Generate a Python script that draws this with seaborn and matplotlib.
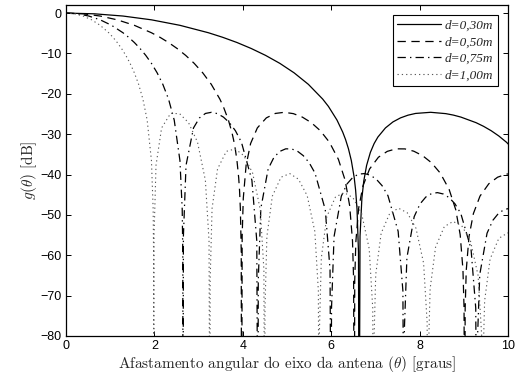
import matplotlib
matplotlib.use("Agg")
import matplotlib.pyplot as plt
import seaborn as sns

# Antenna gain pattern g(theta) in dB for four reflector diameters.
# Each list holds the off-axis angle (degrees) and the gain (dB); nulls are
# stored as -120 dB so that the curve drops through the bottom of the axes.

labels = ["d=0,30m", "d=0,50m", "d=0,75m", "d=1,00m"]

theta_030 = [0, 0.644, 1.288, 1.933, 2.577, 3.222, 3.545, 3.868, 4.190, 4.513,
             4.837, 5.160, 5.483, 5.807, 5.937, 6.131, 6.260, 6.325, 6.390,
             6.455, 6.520, 6.552, 6.584, 6.617, 6.631,
             6.652, 6.694, 6.737, 6.801, 6.886, 6.971, 7.056, 7.227, 7.397,
             7.568, 7.738, 7.909, 8.250, 8.592, 8.763, 8.935, 9.277, 9.448,
             9.620, 9.791, 9.963, 10.134]
g_030 = [0.00, -0.18, -0.73, -1.67, -3.03, -4.87, -6.00, -7.29, -8.77, -10.47,
         -12.45, -14.80, -17.65, -21.30, -23.12, -26.51, -29.48, -31.34, -33.61,
         -36.53, -40.74, -43.84, -48.56, -59.20, -120,
         -55.27, -45.88, -41.58, -37.73, -34.51, -32.32, -30.71, -28.45, -26.96,
         -25.96, -25.29, -24.86, -24.58, -24.91, -25.27, -25.77, -27.15, -28.06,
         -29.15, -30.44, -31.98, -33.86]

theta_050 = [0, 0.3865, 0.7729, 1.1595, 1.5460, 1.9327, 2.1260, 2.3194, 2.5128,
             2.7062, 2.8997, 3.0932, 3.2867, 3.4802, 3.5578, 3.6739, 3.7514,
             3.7901, 3.8288, 3.8675, 3.9062, 3.9257, 3.9450, 3.9644, 3.9726,
             3.9853, 4.0107, 4.0743, 4.1760, 4.3286, 4.5322, 4.7358, 4.9394,
             5.1431, 5.3469, 5.5506, 5.7545, 5.9585, 6.1626, 6.3157, 6.4177,
             6.4816, 6.5071, 6.5199,
             6.5323, 6.5572, 6.6195, 6.7192, 6.8687, 7.0683, 7.2678, 7.4675,
             7.6672, 7.8670, 8.0670, 8.2670, 8.4671, 8.6673, 8.8176, 8.9178,
             8.9804, 9.0055, 9.0180,
             9.0304, 9.0552, 9.1174, 9.2168, 9.3660, 9.5651, 9.7643, 9.9635,
             10.163]
g_050 = [0.00, -0.18, -0.73, -1.67, -3.03, -4.87, -6.00, -7.29, -8.77,
         -10.47, -12.45, -14.80, -17.65, -21.30, -23.12, -26.51, -29.48,
         -31.34, -33.61, -36.53, -40.74, -43.84, -48.56, -59.20, -120,
         -55.27, -45.88, -37.73, -32.32, -28.45, -25.96, -24.86, -24.58,
         -24.91, -25.77, -27.15, -29.15, -31.98, -36.23, -41.44, -47.74,
         -56.45, -66.08, -120,
         -66.16, -56.70, -48.42, -42.79, -38.61, -35.71, -34.26, -33.63,
         -33.65, -34.21, -35.32, -37.06, -39.64, -43.67, -48.71, -54.90,
         -63.55, -73.15, -120,
         -73.21, -63.73, -55.38, -49.67, -45.35, -42.29, -40.66, -39.89,
         -39.76]

theta_075 = [0, 0.2576, 0.5153, 0.7729, 1.0306, 1.2883, 1.4172, 1.5461, 1.6749,
             1.8038, 1.9327, 2.0616, 2.1905, 2.3194, 2.4483, 2.5774, 2.6289,
             2.6418, 2.6472,
             2.6558, 2.7150, 2.8843, 3.0198, 3.1553, 3.2907, 3.4262, 3.5618,
             3.6974, 3.8329, 3.9685, 4.2059, 4.3161, 4.3414,
             4.3497, 4.4076, 4.5731, 4.7056, 4.8381, 4.9706, 5.1031, 5.2357,
             5.3682, 5.5009, 5.6335, 5.8657, 5.9736, 5.9985,
             6.0066, 6.0643, 6.2289, 6.3606, 6.4923, 6.6242, 6.7560, 6.8878,
             7.0196, 7.1515, 7.2836, 7.5146, 7.6219, 7.6466,
             7.6549, 7.7125, 7.8770, 8.0086, 8.1403, 8.2722, 8.4039, 8.5358,
             8.6677, 8.7996, 8.9316, 9.1627, 9.2699, 9.2952,
             9.3029, 9.3607, 9.5255, 9.6575, 9.7895, 9.9215, 10.0537]
g_075 = [0.00, -0.18, -0.73, -1.67, -3.03, -4.87, -6.00, -7.29, -8.77,
         -10.47, -12.45, -14.80, -17.65, -21.30, -26.51, -36.53, -48.56,
         -59.20, -120,
         -55.27, -37.73, -28.45, -25.96, -24.86, -24.58, -24.91, -25.77,
         -27.15, -29.15, -31.98, -41.44, -56.45, -120,
         -66.16, -48.42, -38.61, -35.71, -34.26, -33.63, -33.65, -34.21,
         -35.32, -37.06, -39.64, -48.71, -63.55, -120,
         -73.21, -55.38, -45.35, -42.29, -40.66, -39.89, -39.76, -40.18,
         -41.15, -42.76, -45.23, -54.08, -68.84, -120,
         -78.48, -60.60, -50.44, -47.29, -45.57, -44.70, -44.48, -44.82,
         -45.71, -47.25, -49.64, -58.37, -73.07, -120,
         -82.69, -64.79, -54.54, -51.33, -49.55, -48.63, -48.35]

theta_100 = [0, 0.1932, 0.3865, 0.5797, 0.7729, 0.9662, 1.0628, 1.1594, 1.2560,
             1.3527, 1.4494, 1.5461, 1.6427, 1.7394, 1.8360, 1.9328, 1.9714,
             1.9811, 1.9852,
             1.9915, 2.0359, 2.1628, 2.3659, 2.5690, 2.7722, 2.9753, 3.1532,
             3.2357, 3.2547,
             3.2610, 3.3043, 3.4283, 3.6267, 3.8252, 4.0237, 4.2222, 4.3960,
             4.4767, 4.4953,
             4.5015, 4.5445, 4.6677, 4.8648, 5.0620, 5.2592, 5.4564, 5.6290,
             5.7092, 5.7277,
             5.7338, 5.7768, 5.8997, 6.0964, 6.2932, 6.4901, 6.6870, 6.8594,
             6.9393, 6.9579,
             6.9640, 7.0070, 7.1300, 7.3268, 7.5236, 7.7206, 7.9176, 8.0900,
             8.1701, 8.1887,
             8.1949, 8.2379, 8.3610, 8.5581, 8.7553, 8.9526, 9.1499, 9.3228,
             9.4031, 9.4215,
             9.4277, 9.4709, 9.5943, 9.7919, 9.9896, 10.1874]
g_100 = [0.00, -0.18, -0.73, -1.67, -3.03, -4.87, -6.00, -7.29, -8.77,
         -10.47, -12.45, -14.80, -17.65, -21.30, -26.51, -36.53, -48.56,
         -59.20, -120,
         -55.27, -37.73, -28.45, -24.86, -24.91, -27.15, -31.98, -41.44,
         -56.45, -120,
         -66.16, -48.42, -38.61, -34.26, -33.65, -35.32, -39.64, -48.71,
         -63.55, -120,
         -73.21, -55.38, -45.35, -40.66, -39.76, -41.15, -45.23, -54.08,
         -68.84, -120,
         -78.48, -60.60, -50.44, -45.57, -44.48, -45.71, -49.64, -58.37,
         -73.07, -120,
         -82.69, -64.79, -54.54, -49.55, -48.35, -49.47, -53.30, -61.94,
         -76.60, -120,
         -86.21, -68.29, -57.99, -52.91, -51.63, -52.67, -56.42, -65.00,
         -79.64, -120,
         -89.24, -71.30, -60.95, -55.81, -54.47, -55.45]

x_ticks = [0, 2, 4, 6, 8, 10]
y_ticks = [-80, -70, -60, -50, -40, -30, -20, -10, 0]

sns.set_theme(style="ticks")
plt.rcParams.update({
    "font.family": ["Liberation Sans", "DejaVu Sans"],
    "mathtext.fontset": "cm",
    "xtick.direction": "in",
    "ytick.direction": "in",
    "xtick.top": True,
    "ytick.right": True,
    "xtick.major.size": 3.5,
    "ytick.major.size": 3.5,
    "xtick.major.width": 0.7,
    "ytick.major.width": 0.7,
    "xtick.major.pad": 3,
    "ytick.major.pad": 3,
    "xtick.color": "black",
    "ytick.color": "black",
    "axes.edgecolor": "black",
    "axes.linewidth": 0.9,
    "lines.scale_dashes": False,
})

fig = plt.figure(figsize=(5.26, 3.80), dpi=100)
ax = fig.add_axes([0.1255, 0.1158, 0.8403, 0.8710])

styles = ["-", (0, (6, 4)), (0, (6, 3, 1, 3)), (0, (0.9, 2.2))]
widths = [0.9, 0.9, 0.9, 0.8]
colors = ["black", "black", "black", "0.35"]
series = [(theta_030, g_030), (theta_050, g_050),
          (theta_075, g_075), (theta_100, g_100)]

for (th, g), lab, ls, lw, col in zip(series, labels, styles, widths, colors):
    sns.lineplot(x=th, y=g, ax=ax, color=col, linewidth=lw, linestyle=ls,
                 label=lab, estimator=None, sort=False)

ax.set_xlim(0, 10)
ax.set_ylim(-80, 2)
ax.set_xticks(x_ticks)
ax.set_yticks(y_ticks)
ax.tick_params(labelsize=9)
for side in ["top", "right", "bottom", "left"]:
    ax.spines[side].set_visible(True)

ax.set_xlabel(r"Afastamento angular do eixo da antena ($\theta$) [graus]",
              family="cmr10", fontsize=11, labelpad=1.5)
ax.set_ylabel(r"$g(\theta)$ [dB]", family="cmr10", fontsize=11, labelpad=1)

leg = ax.legend(loc="upper right",
                prop={"family": "Liberation Serif", "style": "italic", "size": 9.5},
                frameon=True, fancybox=False, edgecolor="black", framealpha=1,
                handlelength=3.3, handletextpad=0.3, labelspacing=0.33,
                borderpad=0.35, borderaxespad=0.75)
leg.get_frame().set_linewidth(0.8)

fig.savefig("out.png", dpi=100)
